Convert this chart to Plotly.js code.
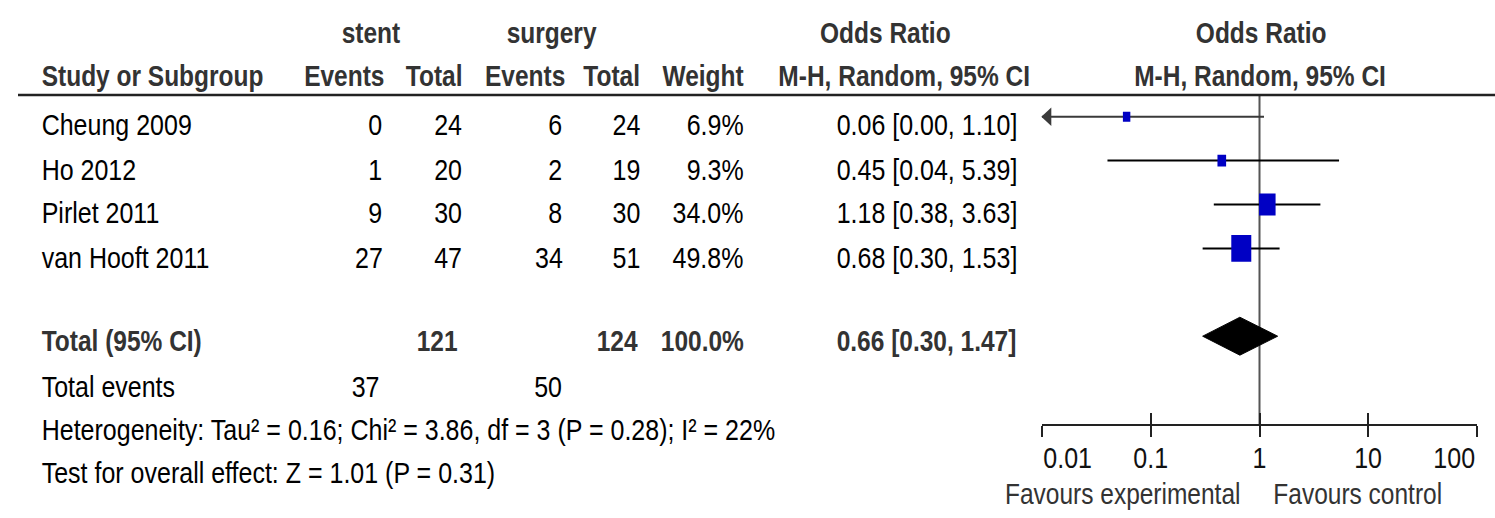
<!DOCTYPE html>
<html>
<head>
<meta charset="utf-8">
<script src="https://cdn.plot.ly/plotly-3.0.1.min.js"></script>
<style>
html,body{margin:0;padding:0;background:#fff;overflow:hidden;width:1495px;height:518px;}
#chart{height:518px;transform-origin:0 0;}
</style>
</head>
<body>
<div id="chart"></div>
<script>
// ---- data ----
const studies = ['Cheung 2009', 'Ho 2012', 'Pirlet 2011', 'van Hooft 2011'];
const stentEvents = [0, 1, 9, 27];
const stentTotal = [24, 20, 30, 47];
const surgeryEvents = [6, 2, 8, 34];
const surgeryTotal = [24, 19, 30, 51];
const weights = [6.9, 9.3, 34.0, 49.8];
const oddsRatio = [0.06, 0.45, 1.18, 0.68];
const ciLower = [0.00, 0.04, 0.38, 0.30];
const ciUpper = [1.10, 5.39, 3.63, 1.53];
const totalStent = 121, totalSurgery = 124, totalWeight = 100.0;
const totalEventsStent = 37, totalEventsSurgery = 50;
const pooledOR = 0.66, pooledLower = 0.30, pooledUpper = 1.47;
const heterogeneityText = 'Heterogeneity: Tau² = 0.16; Chi² = 3.86, df = 3 (P = 0.28); I² = 22%';
const overallText = 'Test for overall effect: Z = 1.01 (P = 0.31)';
const tickVals = [0.01, 0.1, 1, 10, 100];
const tickLabels = ['0.01', '0.1', '1', '10', '100'];
const favoursLeft = 'Favours experimental';
const favoursRight = 'Favours control';

// ---- layout helpers ----
// The reference uses tall, condensed lettering: the figure is laid out wider and squeezed horizontally.
const SX = 25 / 30;
const W = 1495, H = 518;
const ROW0 = 116.7, ROWH = 43.9;
const PX_PER_DEC = 109;
const rowOf = py => (py - ROW0) / ROWH;
const px = x => x / W;
const py = y => 1 - y / H;
const xmin = tickVals[0], xmax = tickVals[tickVals.length - 1];
const shiftX = (v, pixels) => v * Math.pow(10, pixels / PX_PER_DEC);

const traces = [];
traces.push({x: [1, 1], y: [rowOf(95), rowOf(425)], mode: 'lines', line: {color: '#555', width: 2 / SX}, hoverinfo: 'skip', showlegend: false});

studies.forEach((s, i) => {
  const lo = Math.max(ciLower[i], xmin), hi = Math.min(ciUpper[i], xmax);
  traces.push({x: [lo, hi], y: [i, i], mode: 'lines', line: {color: ciLower[i] < xmin ? '#3a3a3a' : '#000', width: 2}, hoverinfo: 'skip', showlegend: false});
  if (ciLower[i] < xmin) {
    traces.push({x: [shiftX(xmin, 6)], y: [i], mode: 'markers', marker: {symbol: 'triangle-left', size: 16, color: '#3a3a3a'}, cliponaxis: false, hoverinfo: 'skip', showlegend: false});
  }
});
const bx = [], by = [];
studies.forEach((s, i) => {
  const hw = 1.42 * Math.sqrt(weights[i]);
  const hh = 1.9 * Math.sqrt(weights[i]) / ROWH;
  const x0 = shiftX(oddsRatio[i], -hw), x1 = shiftX(oddsRatio[i], hw);
  bx.push(x0, x1, x1, x0, x0, null);
  by.push(i - hh, i - hh, i + hh, i + hh, i - hh, null);
});
traces.push({x: bx, y: by, mode: 'lines', fill: 'toself', fillcolor: '#0000C4', line: {width: 0, color: '#0000C4'}, hoverinfo: 'skip', showlegend: false});
const dRow = 5, dh = 19 / ROWH;
traces.push({x: [pooledLower, pooledOR, pooledUpper, pooledOR, pooledLower], y: [dRow, dRow - dh, dRow, dRow + dh, dRow], mode: 'lines', fill: 'toself', fillcolor: '#000', line: {color: '#000', width: 1}, hoverinfo: 'skip', showlegend: false});
traces.push({x: [1], y: [null], xaxis: 'x2', mode: 'markers', marker: {opacity: 0}, hoverinfo: 'skip', showlegend: false});

// ---- annotations ----
const ann = [];
const FONT = 'Liberation Sans, Arial, sans-serif';
const FS = 30, FSB = 29.4;
function txt(text, x, y, anchor, opts) {
  opts = opts || {};
  ann.push({text: opts.bold ? '<b>' + text + '</b>' : text, x: px(x), y: py(y), xref: 'paper', yref: 'paper',
    xanchor: anchor, yanchor: 'middle', showarrow: false,
    font: {family: FONT, size: opts.bold ? FSB : FS, color: opts.color || (opts.bold ? '#333' : '#000')}});
}
txt('stent', 371, 33, 'center', {bold: true});
txt('surgery', 552, 33, 'center', {bold: true});
txt('Odds Ratio', 885, 33, 'center', {bold: true});
txt('Odds Ratio', 1261, 33, 'center', {bold: true});
txt('Study or Subgroup', 40, 75, 'left', {bold: true});
txt('Events', 386, 75, 'right', {bold: true});
txt('Total', 464, 75, 'right', {bold: true});
txt('Events', 567, 75, 'right', {bold: true});
txt('Total', 642, 75, 'right', {bold: true});
txt('Weight', 746, 75, 'right', {bold: true});
txt('M-H, Random, 95% CI', 904, 75, 'center', {bold: true});
txt('M-H, Random, 95% CI', 1260, 75, 'center', {bold: true});
const rowTextY = [125, 169, 213, 257];
studies.forEach((s, i) => {
  const y = rowTextY[i];
  txt(s, 40, y, 'left');
  txt(String(stentEvents[i]), 384, y, 'right');
  txt(String(stentTotal[i]), 463, y, 'right');
  txt(String(surgeryEvents[i]), 564, y, 'right');
  txt(String(surgeryTotal[i]), 642, y, 'right');
  txt(weights[i].toFixed(1) + '%', 745, y, 'right');
  txt(oddsRatio[i].toFixed(2) + ' [' + ciLower[i].toFixed(2) + ', ' + ciUpper[i].toFixed(2) + ']', 1019, y, 'right');
});
txt('Total (95% CI)', 40, 340, 'left', {bold: true});
txt(String(totalStent), 459, 340, 'right', {bold: true});
txt(String(totalSurgery), 640, 340, 'right', {bold: true});
txt(totalWeight.toFixed(1) + '%', 746, 340, 'right', {bold: true});
txt(pooledOR.toFixed(2) + ' [' + pooledLower.toFixed(2) + ', ' + pooledUpper.toFixed(2) + ']', 1018, 340, 'right', {bold: true});
txt('Total events', 40, 386, 'left');
txt(String(totalEventsStent), 381, 386, 'right');
txt(String(totalEventsSurgery), 563, 386, 'right');
txt(heterogeneityText, 40, 429, 'left');
txt(overallText, 40, 472, 'left');
tickVals.forEach((v, i) => {
  const anchor = i === 0 ? 'left' : (i === tickVals.length - 1 ? 'right' : 'center');
  ann.push({text: tickLabels[i], x: Math.log10(v), y: py(457), xref: 'x', yref: 'paper', xanchor: anchor, yanchor: 'middle', showarrow: false,
    font: {family: FONT, size: FS, color: '#111'}});
});
ann.push({text: favoursLeft, x: Math.log10(shiftX(1, -17)), y: py(493), xref: 'x', yref: 'paper', xanchor: 'right', yanchor: 'middle', showarrow: false, font: {family: FONT, size: 29.4, color: '#333'}});
ann.push({text: favoursRight, x: Math.log10(shiftX(1, 12)), y: py(493), xref: 'x', yref: 'paper', xanchor: 'left', yanchor: 'middle', showarrow: false, font: {family: FONT, size: 29.4, color: '#333'}});

const axisPos = py(425);
const layout = {
  width: W / SX, height: H,
  margin: {l: 0, r: 0, t: 0, b: 0, pad: 0},
  paper_bgcolor: '#fff', plot_bgcolor: 'rgba(0,0,0,0)',
  font: {family: FONT, size: FS, color: '#000'},
  showlegend: false,
  xaxis: {type: 'log', range: [Math.log10(xmin), Math.log10(xmax)], domain: [px(1042), px(1477)], anchor: 'free', position: axisPos,
    showline: true, linecolor: '#222', linewidth: 2, ticks: 'outside', ticklen: 11, tickwidth: 2 / SX, tickcolor: '#222',
    tickmode: 'array', tickvals: tickVals, showticklabels: false, showgrid: false, zeroline: false, fixedrange: true},
  xaxis2: {type: 'log', overlaying: 'x', range: [Math.log10(xmin), Math.log10(xmax)], domain: [px(1042), px(1477)], anchor: 'free', position: axisPos,
    showline: false, ticks: 'inside', ticklen: 12, tickwidth: 2 / SX, tickcolor: '#222',
    tickmode: 'array', tickvals: tickVals, showticklabels: false, showgrid: false, zeroline: false, fixedrange: true},
  yaxis: {range: [rowOf(H), rowOf(0)], domain: [0, 1], visible: false, showgrid: false, zeroline: false, fixedrange: true},
  shapes: [{type: 'line', xref: 'paper', yref: 'paper', x0: px(18), x1: 1, y0: py(95), y1: py(95), line: {color: '#222', width: 2.5}}],
  annotations: ann
};
const el = document.getElementById('chart');
el.style.width = (W / SX) + 'px';
el.style.transform = 'scaleX(' + SX + ')';
Plotly.newPlot(el, traces, layout, {displayModeBar: false, staticPlot: true});
</script>
</body>
</html>
